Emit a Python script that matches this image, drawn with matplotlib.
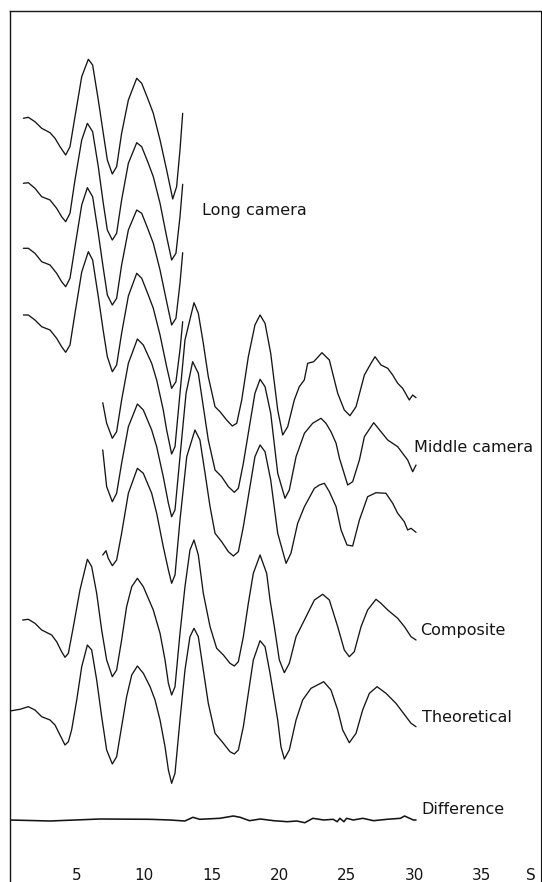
import matplotlib
matplotlib.use("Agg")
import matplotlib.pyplot as plt

# ---------------- data (s in Å^-1, intensity in arbitrary units) ----------------
s_L1 = [1.02,1.39,1.88,2.38,3.0,3.37,3.74,4.16,4.48,4.85,5.35,5.84,6.16,6.58,6.95,7.25,7.62,7.94,8.31,8.81,9.43,9.8,10.29,10.66,11.16,11.65,12.1,12.39,12.64,12.84]
I_L1 = [0.97,1.07,0.63,-0.03,-0.47,-1.03,-1.87,-2.7,-1.87,1.13,5.13,6.87,6.3,2.8,-0.53,-3.2,-4.6,-3.87,-0.53,2.8,4.97,4.47,2.8,1.47,-1.2,-4.2,-7.1,-5.87,-2.2,1.47]

s_L2 = [1.02,1.39,1.88,2.38,3.0,3.49,3.86,4.16,4.48,4.85,5.35,5.77,6.16,6.58,6.95,7.25,7.62,7.94,8.31,8.81,9.43,9.8,10.29,10.66,11.16,11.65,12.02,12.34,12.64,12.84]
I_L2 = [0.47,0.53,-0.03,-0.87,-1.2,-2.03,-2.87,-3.37,-2.53,0.8,4.8,6.47,5.63,2.13,-1.53,-4.2,-5.2,-4.53,-1.2,2.47,4.53,4.13,2.47,1.13,-1.53,-4.87,-7.2,-6.53,-2.87,0.37]

s_L3 = [1.02,1.39,1.88,2.38,3.0,3.49,3.86,4.16,4.48,4.85,5.35,5.77,6.16,6.58,6.95,7.25,7.62,7.94,8.31,8.81,9.43,9.8,10.29,10.66,11.16,11.65,12.02,12.34,12.64,12.84]
I_L3 = [0.47,0.47,-0.03,-0.87,-1.2,-2.03,-2.87,-3.37,-2.53,0.63,4.8,6.53,5.63,1.97,-1.53,-4.2,-5.2,-4.53,-1.2,2.3,4.3,3.97,2.3,0.97,-1.7,-4.87,-7.2,-6.53,-3.03,0.03]

s_L4 = [1.02,1.39,1.88,2.38,3.0,3.49,3.86,4.16,4.48,4.85,5.35,5.84,6.16,6.58,6.95,7.25,7.62,7.94,8.31,8.81,9.43,9.8,10.29,10.66,11.16,11.65,12.02,12.34,12.64,12.84]
I_L4 = [0.1,0.1,-0.4,-1.07,-1.4,-2.23,-3.07,-3.63,-2.9,0.27,4.4,6.43,5.6,1.93,-1.5,-4.07,-5.57,-4.9,-1.73,2.0,4.27,3.77,2.1,0.77,-1.9,-5.07,-7.23,-6.57,-3.4,-0.57]

s_M1 = [6.91,7.2,7.62,7.94,8.31,8.81,9.48,9.92,10.54,10.91,11.4,11.65,12.02,12.27,12.64,13.01,13.68,14.0,14.37,14.74,15.24,15.61,16.1,16.52,16.85,17.22,17.71,18.2,18.58,18.95,19.37,19.89,20.26,20.63,21.12,21.49,21.86,22.11,22.56,23.17,23.72,24.34,24.83,25.25,25.7,26.32,26.81,27.11,27.55,28.05,28.42,28.79,29.16,29.65,29.9,30.15]
I_M1 = [-1.87,-3.93,-5.43,-4.77,-1.6,2.07,4.5,3.9,2.07,0.4,-2.6,-4.6,-7.0,-6.27,-0.93,4.4,8.13,7.07,4.07,0.73,-2.27,-2.77,-3.6,-4.2,-3.93,-1.6,2.73,5.9,6.9,6.07,3.07,-2.6,-5.1,-4.27,-1.6,-0.27,0.4,2.07,2.23,3.13,2.4,-0.93,-2.6,-3.17,-2.27,0.9,2.07,2.73,1.9,1.57,0.9,0.07,-0.43,-1.6,-1.1,-1.37]

s_M2 = [6.91,7.2,7.62,7.94,8.31,8.81,9.48,9.92,10.54,10.91,11.4,11.78,12.02,12.27,12.64,13.09,13.58,14.0,14.37,14.74,15.24,15.73,16.23,16.67,16.97,17.34,17.83,18.2,18.58,18.95,19.37,19.89,20.43,20.75,21.25,21.87,22.48,23.1,23.47,23.84,24.22,24.47,25.08,25.45,25.95,26.32,27.01,27.55,28.05,28.79,29.53,29.9,30.15]
I_M2 = [-0.3,-3.97,-5.47,-4.63,-1.63,2.03,4.3,3.7,1.7,0.03,-2.97,-5.63,-6.97,-6.3,-0.97,5.37,8.53,7.37,4.03,0.7,-2.3,-2.97,-3.97,-4.53,-4.13,-1.63,2.37,5.37,6.77,6.03,3.37,-2.63,-5.13,-4.3,-0.97,1.37,2.37,2.87,2.37,1.53,0.37,-1.13,-3.8,-3.47,-1.3,1.03,2.43,1.53,0.7,0.03,-1.3,-2.47,-1.8]

s_M3 = [6.91,7.15,7.32,7.62,7.94,8.31,8.81,9.48,9.92,10.54,10.91,11.4,11.78,12.02,12.27,12.64,13.14,13.75,14.12,14.5,14.87,15.24,15.73,16.23,16.6,16.97,17.34,17.83,18.2,18.58,18.95,19.37,19.89,20.51,20.87,21.37,21.87,22.61,22.98,23.35,23.72,24.22,24.59,25.03,25.45,25.95,26.56,27.18,27.92,28.42,28.79,29.28,29.53,29.78,30.15]
I_M3 = [-4.3,-3.87,-4.63,-5.37,-4.8,-2.13,1.87,4.37,3.87,1.87,-0.13,-3.47,-5.8,-7.13,-6.3,-0.8,5.53,8.2,7.2,3.87,0.53,-2.13,-2.97,-3.97,-4.4,-3.97,-1.47,2.53,5.53,6.7,6.03,3.2,-2.13,-5.13,-4.13,-1.13,0.53,2.37,2.7,2.87,2.03,0.53,-1.8,-3.3,-3.4,-0.8,1.53,1.93,1.87,0.87,-0.13,-0.97,-1.8,-1.63,-2.03]

s_comp = [0.97,1.39,1.88,2.38,3.12,3.49,3.86,4.11,4.36,4.73,5.22,5.77,6.09,6.46,6.83,7.2,7.62,7.94,8.31,8.68,9.06,9.48,9.92,10.66,11.16,11.53,11.78,12.02,12.27,12.64,13.01,13.38,13.68,14.0,14.37,14.87,15.36,15.86,16.35,16.67,16.97,17.34,17.71,18.08,18.58,19.07,19.32,19.64,20.01,20.38,20.75,21.25,21.87,22.61,23.23,23.72,24.34,24.83,25.2,25.57,26.07,26.56,27.18,27.55,28.05,28.79,29.29,29.78,30.15]
I_comp = [0.4,0.47,0.07,-0.6,-1.1,-1.77,-2.77,-3.33,-2.93,-0.27,3.4,6.47,5.73,3.07,-0.6,-3.6,-5.27,-4.6,-1.6,1.73,3.73,4.57,3.73,1.4,-0.93,-3.6,-5.93,-7.1,-6.27,-0.93,3.73,7.4,8.4,6.9,3.07,-0.27,-2.43,-3.1,-3.93,-4.2,-3.77,-1.27,2.07,5.07,6.9,5.07,2.4,-0.27,-3.6,-4.87,-3.93,-1.27,0.4,2.4,2.97,2.4,-0.27,-2.6,-3.27,-2.77,-0.27,1.4,2.47,2.07,1.4,0.57,-0.27,-1.27,-1.6]

s_theo = [0.03,0.77,1.39,1.88,2.38,3.0,3.37,3.74,4.11,4.36,4.6,4.98,5.35,5.77,6.09,6.46,6.83,7.2,7.62,7.94,8.31,8.68,9.06,9.48,9.92,10.42,10.79,11.16,11.53,11.78,12.02,12.27,12.64,13.01,13.38,13.68,14.0,14.37,14.74,15.24,15.86,16.35,16.67,16.97,17.34,17.71,18.08,18.58,18.95,19.32,19.89,20.13,20.38,20.75,21.25,21.74,22.36,23.3,23.84,24.34,24.71,25.2,25.7,26.19,26.69,27.26,27.92,28.66,29.41,29.78,30.15]
I_theo = [0.1,0.27,0.53,0.2,-0.47,-0.8,-1.3,-2.3,-3.3,-2.97,-1.8,1.2,4.53,6.7,6.2,3.2,-0.47,-3.8,-5.2,-4.47,-1.47,1.53,3.7,4.6,3.87,2.53,1.2,-0.8,-3.47,-5.8,-7.13,-6.13,-0.8,4.2,7.53,8.37,7.53,4.2,0.87,-2.13,-3.13,-3.97,-4.2,-3.8,-1.47,1.87,5.2,7.13,6.53,3.87,-0.8,-3.47,-4.7,-3.8,-0.8,1.2,2.37,3.03,2.2,0.2,-1.8,-3.07,-2.13,0.2,1.87,2.53,1.87,0.87,-0.47,-1.13,-1.47]

s_diff = [0.03,3.0,6.7,10.4,11.9,13.0,13.6,14.1,15.6,16.6,17.1,17.8,18.6,19.6,20.6,21.3,21.9,22.5,23.3,24.0,24.3,24.5,24.8,25.0,25.5,26.2,27.0,28.0,29.0,29.3,29.95,30.15]
I_diff = [0,-0.1,0.1,0.07,0.0,-0.1,0.27,0.07,0.17,0.4,0.27,-0.07,0.1,-0.07,-0.17,-0.1,-0.27,0.17,0.0,0.07,-0.17,0.17,-0.17,0.17,0.0,0.17,-0.07,0.07,0.17,0.4,0.0,0.0]

# vertical stacking offsets of the curves
offsets = {"L1": 75.4, "L2": 69.4, "L3": 62.9, "L4": 56.6,
           "M1": 49.8, "M2": 43.5, "M3": 37.0,
           "comp": 25.8, "theo": 17.0, "diff": 6.2}

curves = {"L1": (s_L1, I_L1), "L2": (s_L2, I_L2), "L3": (s_L3, I_L3), "L4": (s_L4, I_L4),
          "M1": (s_M1, I_M1), "M2": (s_M2, I_M2), "M3": (s_M3, I_M3),
          "comp": (s_comp, I_comp), "theo": (s_theo, I_theo), "diff": (s_diff, I_diff)}

tick_values = [5, 10, 15, 20, 25, 30, 35]
axis_label = "S"

labels = [("Long camera", 14.27, 67.2),
          ("Middle camera", 30.02, 43.5),
          ("Composite", 30.44, 25.2),
          ("Theoretical", 30.57, 16.45),
          ("Difference", 30.57, 7.3)]

# ---------------- figure ----------------
W, H = 542, 882
fig = plt.figure(figsize=(W / 100, H / 100), dpi=100)
ax = fig.add_axes([9.6 / W, 0.0, (541 - 9.6) / W, (H - 11) / H])
ax.set_xlim(0, (541 - 9.6) / 13.48)
ax.set_ylim(0, (H - 11) / 10)

ink = "#151515"
for key, (s, I) in curves.items():
    assert len(s) == len(I), key
    off = offsets[key]
    lw = 1.15 if key == "diff" else 0.95
    ax.plot(s, [v + off for v in I], color=ink, lw=lw,
            solid_joinstyle="round", solid_capstyle="round")

for txt, x, y in labels:
    ax.text(x, y, txt, fontsize=11.5, color=ink, ha="left", va="center",
            family="DejaVu Sans")

for v in tick_values:
    ax.text(v, 0.7, str(v), fontsize=11, color=ink, ha="center", va="center",
            family="DejaVu Sans")
ax.text(38.7, 0.7, axis_label, fontsize=11, color=ink, ha="center", va="center",
        family="DejaVu Sans")

ax.set_xticks([])
ax.set_yticks([])
for side in ("left", "top", "right"):
    ax.spines[side].set_linewidth(1.0)
    ax.spines[side].set_color(ink)
ax.spines["right"].set_linewidth(0.8)
ax.spines["bottom"].set_visible(False)

fig.savefig("out.png", dpi=100)
